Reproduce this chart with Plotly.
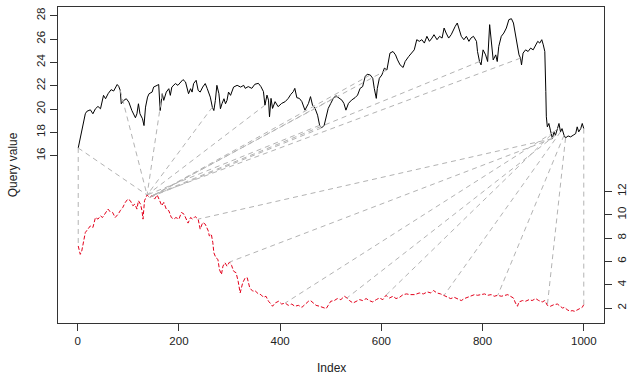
import numpy as np
import plotly.graph_objects as go

# Query series (black, left axis)
query_idx = [1, 5, 10, 15, 18, 25, 30, 35, 40, 45, 51, 55, 60, 66, 71, 78, 81, 84, 86, 91, 96, 101, 107, 114, 117,
             120, 123, 128, 131, 134, 138, 141, 147, 150, 157, 160, 163, 167, 170, 175, 180, 183, 186, 193, 198,
             203, 208, 213, 216, 219, 223, 226, 229, 234, 238, 242, 247, 252, 256, 259, 262, 266, 269, 272, 275,
             279, 282, 285, 289, 292, 295, 298, 302, 308, 315, 322, 328,
             331, 337, 344, 350, 357, 362, 367, 370, 374, 377, 379, 382, 385, 390, 396, 403, 410, 416, 421, 426,
             429, 433, 438, 443, 449, 456, 460, 464, 469, 474, 478, 482, 487, 491, 495, 500, 505, 510, 515, 522,
             526, 530, 535, 541, 548, 553, 558, 563, 568, 572, 578, 583, 586, 590, 592, 596, 601, 606, 611, 614,
             617, 623, 628, 632, 637, 643, 647, 654, 661, 665,
             670, 675, 680, 685, 690, 695, 700, 704, 710, 715, 720, 724, 728, 733, 738, 742, 746, 750, 753, 758,
             763, 768, 773, 777, 782, 788, 790, 794, 797, 801, 806, 810, 814, 817, 821, 826, 829, 832, 837, 842,
             847, 852, 857, 861, 865, 869, 872, 875, 877, 880, 885, 890, 895, 900, 905, 909, 913, 917, 920, 923,
             925, 926, 928, 931, 934, 938, 941, 944, 948, 951, 954, 957, 961, 964, 969, 974, 979, 984, 987, 990,
             994, 997, 1000]
query_val = [16.66, 17.57, 18.58, 19.59, 19.8, 19.93, 19.59, 20.02, 20.22, 20.02, 21.17, 20.88, 21.31, 21.66, 21.54,
             22.1, 21.94, 21.6, 20.45, 20.74, 20.88, 20.59, 19.87, 19.25, 19.59,
             20.45, 19.59, 19.16, 18.58, 20.16, 21.02, 21.31, 21.45, 21.88, 22.03, 22.1, 19.87, 21.31, 20.74, 21.45,
             21.74, 21.17, 21.88, 22.18, 22.03,
             22.32, 22.52, 22.32, 21.88, 21.31, 21.74, 21.45, 22.18, 22.46, 21.6, 21.45, 21.88, 22.18, 21.74, 21.31,
             21.02, 20.16, 19.87, 20.74, 22.03,
             21.31, 20.02, 20.45, 20.88, 20.45, 20.74, 21.45, 21.17, 21.88, 22.03, 21.88, 22.03,
             21.77, 21.92, 21.77, 22.12, 22.2, 21.92, 21.49, 20.33, 21.19, 20.76, 19.33, 20.91, 20.05, 20.63, 20.2,
             20.48, 20.63, 20.91, 21.25, 21.49,
             21.77, 20.97, 20.91, 20.63, 19.9, 20.48, 21.06, 20.33, 20.05, 19.47, 18.6, 18.38, 18.6, 19.33, 20.05,
             20.48, 20.91, 21.14, 20.97, 20.76,
             20.48, 19.9, 20.48, 20.76, 20.97, 21.19, 21.77, 21.92, 22.78, 22.98, 22.92, 22.63, 21.77, 20.91, 21.77,
             22.63, 22.92, 23.5, 23.35, 23.93,
             24.79, 24.93, 24.64, 24.21, 23.78, 23.56, 24.07, 24.5, 24.93, 25.07,
             25.94, 25.8, 25.94, 25.65, 26.23, 25.8, 26.08, 26.37, 25.94, 26.23, 26.08, 26.94, 26.51, 26.08, 26.37,
             26.8, 27.09, 27.37, 26.94, 26.23,
             25.94, 26.23, 25.8, 26.08, 26.23, 25.8, 24.93, 24.07, 23.78, 25.07, 24.64, 24.07, 27.23, 26.08, 24.21,
             24.64, 24.07, 25.36, 26.23, 26.51,
             26.94, 27.66, 27.74, 27.37, 26.23, 25.5, 24.64, 24.36, 23.78, 24.79, 25.07, 24.93, 25.22, 25.07, 25.45,
             25.8, 25.65, 25.94, 25.5, 24.93,
             21.49, 19.33, 18.47, 18.76, 18.18, 17.46, 18.04, 17.75, 18.32, 18.76, 18.04, 18.32, 17.75, 17.52, 17.69,
             17.61, 17.75, 17.89, 18.47, 18.04,
             18.32, 18.76, 18.32]

# Reference series (red dashed, right axis)
ref_idx = [1, 5, 8, 12, 15, 20, 25, 30, 35, 40, 45, 49, 55, 60, 64, 69, 74, 80, 84, 89, 94, 99, 104, 109, 113,
           117, 120, 124, 127, 129, 132, 137, 142, 147, 152, 157, 162, 166, 170, 175, 180, 185, 190, 194, 200,
           205, 210, 214, 218, 223, 227, 232, 238, 242, 247, 252, 258, 260, 264, 267, 269, 273, 277, 280, 284,
           287, 291, 295, 300, 304, 308, 313, 317, 321, 326, 331,
           335, 340, 346, 350, 357, 362, 367, 372, 377, 382, 385, 390, 397, 403, 410, 416, 423, 429, 436, 443,
           449, 456, 460, 466, 471, 478, 484, 491, 495, 500, 507, 513, 520, 527, 532, 537, 544, 550, 557, 563,
           570, 576, 583, 590, 596, 603, 609, 616, 623, 629, 636, 643, 650, 656,
           666, 675, 683, 691, 698, 703, 710, 717, 724, 730, 737, 744, 750, 758, 764, 771, 777, 784, 790, 797,
           804, 810, 817, 823, 830, 837, 843, 850, 855, 861, 865, 869, 872, 879, 885, 892, 898, 905, 911, 918,
           923, 928, 934, 941, 948, 953, 958, 962, 967, 973, 977, 982, 987, 992, 997, 1000]
ref_val = [7.32, 6.6, 6.89, 7.75, 8.47, 8.76, 9.04, 8.9, 9.76, 9.62, 9.9, 9.76, 10.19, 10.48, 10.25, 10.19, 9.76,
           10.05, 10.34, 10.62, 11.05, 11.34, 11.2, 10.77, 10.91,
           10.48, 11.2, 10.91, 10.34, 9.62, 11.2, 11.69, 11.48, 11.63, 11.34, 11.69, 11.2, 10.77, 11.05, 10.48,
           10.34, 9.76, 9.62, 9.76, 9.62,
           10.19, 10.05, 9.62, 9.28, 9.76, 9.62, 9.84, 9.62, 8.76, 9.33, 9.19, 8.61, 8.18, 8.33, 7.6, 6.74, 6.31,
           6.17, 5.31, 4.88,
           5.59, 5.88, 5.59, 5.94, 5.66, 5.16, 5.02, 4.3, 3.29, 4.16, 4.59,
           4.59, 3.72, 3.44, 3.5, 3.21, 3.15, 2.92, 3.01, 2.58, 2.34, 2.15, 2.43, 2.58, 2.34, 2.43, 2.23, 2.34,
           2.15, 2.23, 2.06,
           2.34, 2.58, 2.64, 2.43, 2.23, 2.15, 2.06, 1.95, 2.23, 2.58, 2.64, 2.81, 2.72, 3.01, 2.86, 2.64, 2.43,
           2.58, 2.72, 2.64,
           2.81, 2.64, 2.52, 2.72, 2.86, 2.72, 3.09, 2.86, 3.01, 2.81, 2.92, 3.15, 3.21, 3.15,
           3.15, 3.29, 3.21, 3.38, 3.29, 3.5, 3.29, 3.21, 3.09, 2.92, 2.81, 2.92, 2.81, 2.64, 2.81, 2.92, 3.01,
           3.15, 3.09, 3.15,
           3.21, 3.09, 3.15, 3.01, 3.09, 3.01, 3.09, 3.15, 3.01, 2.86, 2.43, 2.15, 2.52, 2.64, 2.58, 2.72, 2.64,
           2.81, 2.64, 2.52,
           2.64, 2.23, 2.15, 2.29, 2.34, 2.15, 2.0, 2.06, 1.86, 1.72, 1.78, 1.72, 1.86, 1.95, 2.06, 2.29]

# DTW matching pairs (query index -> reference index)
match_query_idx = [1, 1, 84, 167, 266, 370, 478, 482, 505, 578, 611, 794, 875,
                   938, 938, 941, 944, 948, 954, 961, 964, 1000]
match_ref_idx = [1, 137, 137, 137, 137, 137, 137, 142, 142, 142, 142, 147, 147,
                 238, 300, 410, 532, 609, 724, 830, 928, 1000]

left_ticks = [16, 18, 20, 22, 24, 26, 28]
right_ticks = [2, 4, 6, 8, 10, 12]
x_ticks = [0, 200, 400, 600, 800, 1000]

offset = 0.94  # vertical offset applied to the reference series

ref_plot = [v + offset for v in ref_val]

def lookup(idx_list, val_list, i):
    arr = np.asarray(idx_list)
    k = int(np.argmin(np.abs(arr - i)))
    return idx_list[k], val_list[k]

mx, my = [], []
for qi, rj in zip(match_query_idx, match_ref_idx):
    xq, yq = lookup(query_idx, query_val, qi)
    xr, yr = lookup(ref_idx, ref_plot, rj)
    mx += [xq, xr, None]
    my += [yq, yr, None]

all_vals = query_val + ref_plot
lo, hi = min(all_vals), max(all_vals)
pad = 0.04 * (hi - lo)
y_range = [lo - pad, hi + pad]
xlo, xhi = 1, 1000
xpad = 0.04 * (xhi - xlo)
x_range = [xlo - xpad, xhi + xpad]

FONT = "Liberation Sans, Arial, sans-serif"
AX = "#333333"
TXT = "#222222"

fig = go.Figure()
fig.add_trace(go.Scatter(x=query_idx, y=query_val, mode="lines",
                         line=dict(color="black", width=1), hoverinfo="skip"))
fig.add_trace(go.Scatter(x=ref_idx, y=ref_plot, mode="lines",
                         line=dict(color="#e3001b", width=1, dash="4px,2px"), hoverinfo="skip"))
fig.add_trace(go.Scatter(x=mx, y=my, mode="lines", connectgaps=False,
                         line=dict(color="#b3b3b3", width=1, dash="5px,4px"), hoverinfo="skip"))
# invisible trace to activate right axis
fig.add_trace(go.Scatter(x=[x_range[0]], y=[y_range[0] - offset], yaxis="y2", mode="markers",
                         marker=dict(opacity=0), hoverinfo="skip"))

fig.update_layout(
    width=629, height=374,
    margin=dict(l=58, r=25, t=7, b=51),
    paper_bgcolor="white", plot_bgcolor="white",
    showlegend=False,
    font=dict(family=FONT, size=12, color=TXT),
    xaxis=dict(range=x_range, tickvals=x_ticks, ticks="outside", ticklen=7, tickcolor=AX,
               showline=True, mirror=True, linecolor=AX, linewidth=1, automargin=False,
               showgrid=False, zeroline=False, tickfont=dict(size=11.5, color=TXT)),
    yaxis=dict(range=y_range, tickvals=left_ticks, ticks="outside", ticklen=7, tickcolor=AX,
               showline=True, mirror=True, linecolor=AX, linewidth=1, tickangle=-90, automargin=False,
               showgrid=False, zeroline=False, tickfont=dict(size=11.5, color=TXT)),
    yaxis2=dict(range=[y_range[0] - offset, y_range[1] - offset], overlaying="y", side="right",
                tickvals=right_ticks, ticks="outside", ticklen=7, tickcolor=AX, tickangle=-90,
                showline=False, showgrid=False, zeroline=False, automargin=False,
                tickfont=dict(size=11.5, color=TXT)),
    annotations=[
        dict(text="Index", xref="paper", yref="paper", x=0.5, y=-0.142, showarrow=False,
             xanchor="center", yanchor="middle", font=dict(size=12)),
        dict(text="Query value", xref="paper", yref="paper", x=-0.082, y=0.5, showarrow=False,
             xanchor="center", yanchor="middle", textangle=-90, font=dict(size=12)),
    ],
)

fig.write_html("out.html")
